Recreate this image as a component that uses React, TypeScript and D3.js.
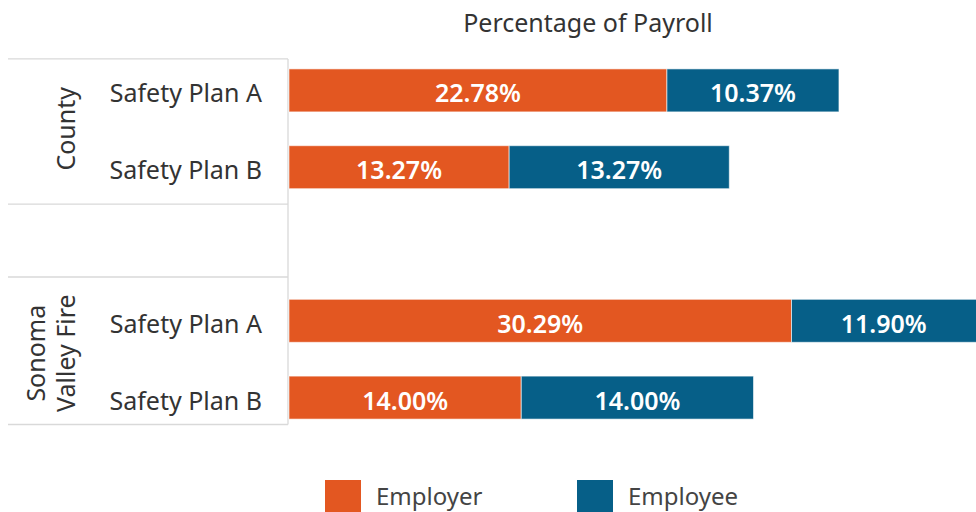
import React from 'react'
import * as d3 from 'd3'

const groups = ['County', 'Sonoma Valley Fire']
const rows = ['County|A', 'County|B', 'gap', 'Sonoma|A', 'Sonoma|B']
const rowLabels = ['Safety Plan A', 'Safety Plan B', '', 'Safety Plan A', 'Safety Plan B']
const employer = [22.78, 13.27, null, 30.29, 14.0]
const employee = [10.37, 13.27, null, 11.9, 14.0]
const seriesNames = ['Employer', 'Employee']
const colors = ['#E35721', '#065F88']

const W = 976
const H = 512
const font = "'Segoe UI', 'Noto Sans', sans-serif"

export default function App() {
  const x = d3.scaleLinear().domain([0, 50]).range([289, 289 + 50 * 16.59])
  const y = d3.scaleBand().domain(rows).range([52, 436]).paddingInner(0.44).paddingOuter(0.22)
  const step = y.step()
  const yc = (i: number) => (y(rows[i]) as number) + y.bandwidth() / 2

  // table lines around the group blocks
  const lines = [
    yc(0) - 0.41 * step,
    yc(1) + 0.48 * step,
    yc(3) - 0.57 * step,
    yc(4) + 0.35 * step,
  ]

  const stacks = rows.map((r, i) => {
    if (employer[i] == null) return []
    const a = employer[i] as number
    const b = employee[i] as number
    return [
      { x0: 0, x1: a, v: a, c: colors[0] },
      { x0: a, x1: a + b, v: b, c: colors[1] },
    ]
  })

  return (
    <svg width={W} height={H} style={{ position: 'absolute', left: 0, top: 0 }} fontFamily={font}>
      <rect width={W} height={H} fill="#fff" />
      <text x={588} y={32} textAnchor="middle" fontSize={25} fill="#333">
        Percentage of Payroll
      </text>

      {lines.map((ly, i) => (
        <line key={i} x1={8} x2={288} y1={ly} y2={ly} stroke="#d9d9d9" strokeWidth={1.3} />
      ))}
      <line x1={288} x2={288} y1={lines[0]} y2={lines[3]} stroke="#d9d9d9" strokeWidth={1.3} />

      <text
        transform={`translate(${65},${(yc(0) + yc(1)) / 2}) rotate(-90)`}
        textAnchor="middle"
        dominantBaseline="central"
        fontSize={25}
        fill="#333"
      >
        {groups[0]}
      </text>
      <text
        transform={`translate(${50},${(yc(3) + yc(4)) / 2 - 6}) rotate(-90)`}
        textAnchor="middle"
        fontSize={25}
        fill="#333"
      >
        <tspan x={0} dy={-5}>Sonoma</tspan>
        <tspan x={0} dy={30}>Valley Fire</tspan>
      </text>

      {rowLabels.map((l, i) => (
        <text key={i} x={262} y={yc(i) + 2} textAnchor="end" dominantBaseline="central" fontSize={25} fill="#333">
          {l}
        </text>
      ))}

      {stacks.map((segs, i) =>
        segs.map((s, j) => (
          <g key={i + '-' + j}>
            <rect
              x={x(s.x0)}
              y={y(rows[i])}
              width={x(s.x1) - x(s.x0)}
              height={y.bandwidth()}
              fill={s.c}
              stroke="#fff"
              strokeOpacity={0.6}
              strokeWidth={1}
            />
            <text
              x={(x(s.x0) + Math.min(x(s.x1), W)) / 2}
              y={yc(i) + 2}
              textAnchor="middle"
              dominantBaseline="central"
              fontSize={25}
              fontWeight={600}
              fill="#fff"
            >
              {s.v.toFixed(2)}%
            </text>
          </g>
        ))
      )}

      {seriesNames.map((n, i) => (
        <g key={n} transform={`translate(${325 + i * 252},480)`}>
          <rect width={36} height={34} fill={colors[i]} />
          <text x={51} y={15} dominantBaseline="central" fontSize={24} fill="#444">
            {n}
          </text>
        </g>
      ))}
    </svg>
  )
}
